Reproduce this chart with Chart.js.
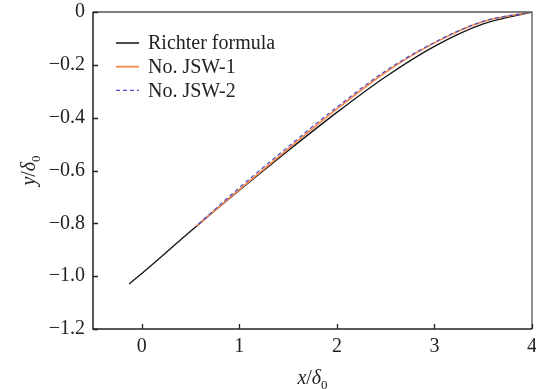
<!DOCTYPE html>
<html>
<head>
<meta charset="utf-8">
<script src="https://cdn.jsdelivr.net/npm/chart.js@4/dist/chart.umd.min.js"></script>
<style>
  html, body { margin: 0; padding: 0; background: #ffffff; }
  #wrap { width: 536px; height: 389px; position: relative; }
</style>
</head>
<body>
<div id="wrap"><canvas id="c" width="536" height="389"></canvas></div>
<script>
// ---- data ----
const richterX = [-0.13, 0, 0.5, 1, 1.5, 2, 2.5, 3, 3.5, 4];
const richterY = [-1.03, -0.99, -0.83, -0.675, -0.525, -0.38, -0.245, -0.13, -0.045, 0];
const jsw1X = [0.56, 1, 1.5, 2, 2.5, 3, 3.5, 4];
const jsw1Y = [-0.81, -0.672, -0.518, -0.367, -0.228, -0.117, -0.036, 0];
const jsw2X = [0.58, 1, 1.5, 2, 2.5, 3, 3.5, 4];
const jsw2Y = [-0.803, -0.665, -0.51, -0.36, -0.223, -0.115, -0.035, 0];
const seriesLabels = ['Richter formula', 'No. JSW-1', 'No. JSW-2'];
const xTickVals = [0, 1, 2, 3, 4];
const yTickVals = [0, -0.2, -0.4, -0.6, -0.8, -1.0, -1.2];

const FONT = "'Liberation Serif', 'Times New Roman', serif";
const pts = (xs, ys) => xs.map((x, i) => ({ x: x, y: ys[i] }));

const framePlugin = {
  id: 'frame',
  afterDraw(chart) {
    const ctx = chart.ctx, a = chart.chartArea;
    const xs = chart.scales.x, ys = chart.scales.y;
    ctx.save();
    // frame
    ctx.strokeStyle = '#555555';
    ctx.lineWidth = 1.3;
    ctx.beginPath();
    ctx.moveTo(a.left, a.top); ctx.lineTo(a.right, a.top); ctx.lineTo(a.right, a.bottom);
    ctx.stroke();
    ctx.strokeStyle = '#222222';
    ctx.lineWidth = 1.5;
    ctx.beginPath();
    ctx.moveTo(a.left, a.top); ctx.lineTo(a.left, a.bottom); ctx.lineTo(a.right, a.bottom);
    ctx.stroke();
    // inward ticks
    ctx.lineWidth = 1.3;
    ctx.beginPath();
    xTickVals.forEach(v => {
      const px = Math.round(xs.getPixelForValue(v)) + 0.5;
      ctx.moveTo(px, a.bottom); ctx.lineTo(px, a.bottom - 5);
    });
    yTickVals.forEach(v => {
      const py = Math.round(ys.getPixelForValue(v)) + 0.5;
      ctx.moveTo(a.left, py); ctx.lineTo(a.left + 5, py);
    });
    ctx.stroke();

    // legend
    const ds = chart.data.datasets;
    const lx = a.left + 23, ly = a.top + 31, step = 23.7;
    ds.forEach((d, i) => {
      const y = ly + i * step;
      ctx.strokeStyle = d.borderColor;
      ctx.lineWidth = d.legendWidth || 1.3;
      ctx.setLineDash(d.borderDash || []);
      ctx.beginPath();
      ctx.moveTo(lx, y); ctx.lineTo(lx + 23, y);
      ctx.stroke();
      ctx.setLineDash([]);
      ctx.fillStyle = '#222222';
      ctx.font = '20px ' + FONT;
      ctx.textBaseline = 'middle';
      ctx.textAlign = 'left';
      ctx.fillText(d.label, lx + 32, y + 1);
    });

    // axis titles: x/δ0 and y/δ0 with subscript
    const drawTitle = (letter) => {
      const parts = [
        { t: letter, f: 'italic 20px ' + FONT, dy: 0 },
        { t: '/', f: '20px ' + FONT, dy: 0 },
        { t: 'δ', f: 'italic 20px ' + FONT, dy: 0 },
        { t: '0', f: '13px ' + FONT, dy: 5 }
      ];
      let w = 0;
      parts.forEach(p => { ctx.font = p.f; p.w = ctx.measureText(p.t).width; w += p.w; });
      let x = -w / 2;
      ctx.textBaseline = 'alphabetic';
      ctx.textAlign = 'left';
      ctx.fillStyle = '#222222';
      parts.forEach(p => { ctx.font = p.f; ctx.fillText(p.t, x, p.dy); x += p.w; });
    };
    ctx.save();
    ctx.translate((a.left + a.right) / 2, 384);
    drawTitle('x');
    ctx.restore();
    ctx.save();
    ctx.translate(35, (a.top + a.bottom) / 2);
    ctx.rotate(-Math.PI / 2);
    drawTitle('y');
    ctx.restore();
    ctx.restore();
  }
};

new Chart(document.getElementById('c'), {
  type: 'line',
  data: {
    datasets: [
      { label: seriesLabels[0], data: pts(richterX, richterY), borderColor: '#111111', borderWidth: 1.3,
        pointRadius: 0, cubicInterpolationMode: 'monotone', order: 3, legendWidth: 1.5 },
      { label: seriesLabels[1], data: pts(jsw1X, jsw1Y), borderColor: '#f5874c', borderWidth: 1.6,
        pointRadius: 0, cubicInterpolationMode: 'monotone', order: 2, legendWidth: 1.8 },
      { label: seriesLabels[2], data: pts(jsw2X, jsw2Y), borderColor: '#4e4ec4', borderWidth: 1.2,
        borderDash: [4, 3], pointRadius: 0, cubicInterpolationMode: 'monotone', order: 1, legendWidth: 1.2 }
    ]
  },
  options: {
    responsive: false,
    animation: false,
    devicePixelRatio: 1,
    layout: { padding: { left: 0, top: 12, right: 4, bottom: 0 } },
    plugins: { legend: { display: false }, tooltip: { enabled: false } },
    scales: {
      x: {
        type: 'linear', min: -0.5, max: 4,
        afterBuildTicks: s => { s.ticks = xTickVals.map(v => ({ value: v })); },
        afterFit: s => { s.height = 60; s.paddingLeft = 0; s.paddingRight = 0; },
        grid: { display: false, drawTicks: false },
        border: { display: false },
        ticks: { padding: 6, color: '#222222', font: { family: FONT, size: 20 }, maxRotation: 0,
          callback: v => String(v) }
      },
      y: {
        type: 'linear', min: -1.2, max: 0,
        afterBuildTicks: s => { s.ticks = yTickVals.map(v => ({ value: v })); },
        afterFit: s => { s.width = 93; s.paddingTop = 0; s.paddingBottom = 0; },
        grid: { display: false, drawTicks: false },
        border: { display: false },
        ticks: { padding: 8, color: '#222222', font: { family: FONT, size: 20 },
          callback: v => (Math.abs(v) < 1e-9 ? '0' : '\u2212' + Math.abs(v).toFixed(1)) }
      }
    }
  },
  plugins: [framePlugin]
});
</script>
</body>
</html>
